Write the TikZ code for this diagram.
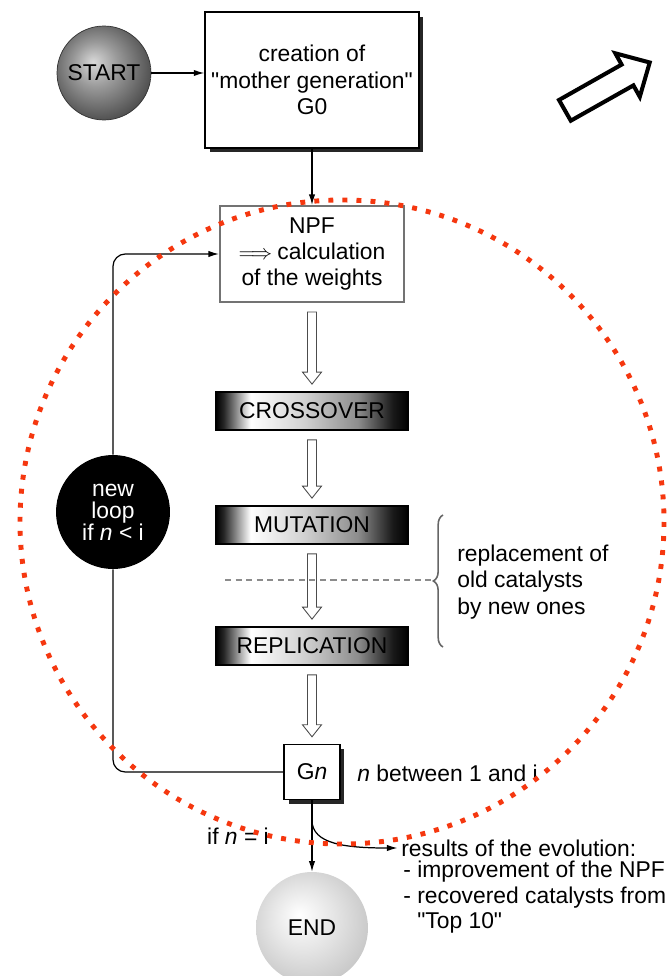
\documentclass[tikz,border=0pt]{standalone}
\usepackage{fontspec}
\setmainfont{Liberation Sans}
\usetikzlibrary{arrows.meta,calc,shadows,decorations.pathreplacing}

\definecolor{dotred}{RGB}{245,55,15}
\pgfdeclarehorizontalshading{barshade}{100bp}{color(0bp)=(black); color(25bp)=(black); color(27bp)=(black!85); color(34bp)=(white); color(48bp)=(black!18); color(62bp)=(black!45); color(71bp)=(black!90); color(75bp)=(black); color(100bp)=(black)}
\pgfdeclareradialshading{startball}{\pgfpoint{-6bp}{6bp}}{color(0bp)=(black!15); color(12bp)=(black!40); color(30bp)=(black!72); color(44bp)=(black!92); color(50bp)=(black)}
\pgfdeclareradialshading{endball}{\pgfpoint{-6bp}{6bp}}{color(0bp)=(white); color(14bp)=(black!10); color(32bp)=(black!24); color(50bp)=(black!42)}

\newcommand*{\midx}{312}

\begin{document}
\begin{tikzpicture}
[
	x=0.02cm, y=-0.02cm,
	>={Latex[length=6pt,width=3.6pt]},
	every node/.style={font=\fontsize{13}{15}\selectfont},
	ball/.style={circle,inner sep=0pt},
	genbox/.style={draw,fill=white,thick,inner sep=0pt,align=center,drop shadow={shadow xshift=0.09cm,shadow yshift=-0.09cm,fill=black!85,opacity=1}},
	opbox/.style={draw,line width=1pt,shading=barshade,inner sep=0pt,minimum width=3.84cm,minimum height=0.76cm},
	hollow/.style={draw=black!70,fill=white,line width=0.5pt},
	conn/.style={draw,line width=0.7pt},
	brace/.style={decorate,decoration={brace,amplitude=5.5pt},draw=black!60,line width=0.9pt},
	label/.style={inner sep=0pt}
]

	\useasboundingbox (0,0) rectangle (670,976);
	\fill[white] (0,0) rectangle (670,976);

	% start and mother generation
	\node[ball,shading=startball,draw=black!80,minimum size=1.88cm] (start) at (104,73) {START};
	\node[genbox,minimum width=4.28cm,minimum height=2.72cm] (g0) at (\midx,80) {creation of\\\textquotedbl mother generation\textquotedbl\\G0};

	% weights
	\node[draw=black!55,line width=1.2pt,fill=white,minimum width=3.68cm,minimum height=1.92cm,align=center,inner sep=0pt] (npf) at (\midx,254) {NPF\\$\Longrightarrow$\kern3pt calculation\\of the weights};

	% genetic operators
	\node[opbox] (cross) at (\midx,411) {CROSSOVER};
	\node[opbox] (mut) at (\midx,525) {MUTATION};
	\node[opbox] (rep) at (\midx,646) {REPLICATION};

	% generation n and end
	\node[genbox,minimum width=1.12cm,minimum height=1.1cm] (gn) at (\midx,772) {G\textit{n}};
	\node[ball,shading=endball,minimum size=2.24cm] (end) at (\midx,928) {END};

	% loop
	\node[circle,fill=black,text=white,minimum size=2.28cm,inner sep=0pt,align=center,font=\fontsize{13}{12.5}\selectfont] (loop) at (113,512) {new\\loop\\if \textit{n} < i};

	% labels
	\node[label,anchor=west] (range) at (357,773) {\textit{n} between 1 and i};
	\node[label,anchor=west,align=left] (repl) at (457,582) {replacement of\\old catalysts\\by new ones};
	\node[label] (ifend) at (238,836) {if \textit{n} = i};
	\node[label,anchor=west] (resh) at (401,848) {results of the evolution:};
	\node[label,anchor=north west,align=left,font=\fontsize{13}{14.3}\selectfont] (reslist) at (403,861) {- improvement of the NPF\\- recovered catalysts from\\\phantom{- }\textquotedbl Top 10\textquotedbl};

	% connectors
	\draw[conn,->] (start.east) -- (start.east -| g0.west);
	\draw[conn,->] (g0.south) -- (npf.north);
	\draw[conn,rounded corners=7pt] (gn.west) -| (loop.south);
	\draw[conn,->,rounded corners=7pt] (loop.north) |- (npf.west);
	\draw[conn,->] (gn.south) -- (end.north);
	\coordinate (fork) at ($(gn.south)+(0,20)$);
	\draw[conn,->,shorten >=2pt] (fork) .. controls +(0,24) and +(-55,0) .. (resh.west);

	% hollow arrows
	\foreach \a/\b in {npf/cross,cross/mut,mut/rep,rep/gn} {
		\draw[hollow] ($(\a.south)+(-4.5,9)$) -- ($(\a.south)+(4.5,9)$) -- ($(\b.north)+(4.5,-19)$) -- ($(\b.north)+(9.5,-19)$) -- ($(\b.north)+(0,-7)$) -- ($(\b.north)+(-9.5,-19)$) -- ($(\b.north)+(-4.5,-19)$) -- cycle;
	}

	% replacement brace
	\coordinate (dashl) at (225,580);
	\coordinate (brtip) at (432,580);
	\coordinate (brtop) at (443,515);
	\coordinate (brbot) at (443,647);
	\draw[black!45,line width=0.6pt,dash pattern=on 3.5pt off 2.5pt] (dashl) -- (brtip);
	\draw[brace] (brbot) -- (brtop);

	% outline arrow
	\draw[line width=2.3pt,line join=miter,fill=white] (559,100) -- (621.6,64.6) -- (615.3,53.3) -- (649.7,62.5) -- (639.8,96.8) -- (633.4,85.4) -- (570.8,120.7) -- cycle;

	% red dotted circle
	\draw[dotred,line width=2.8pt,dash pattern=on 2.8pt off 5.2pt] (342,522) circle [radius=322];

\end{tikzpicture}
\end{document}
